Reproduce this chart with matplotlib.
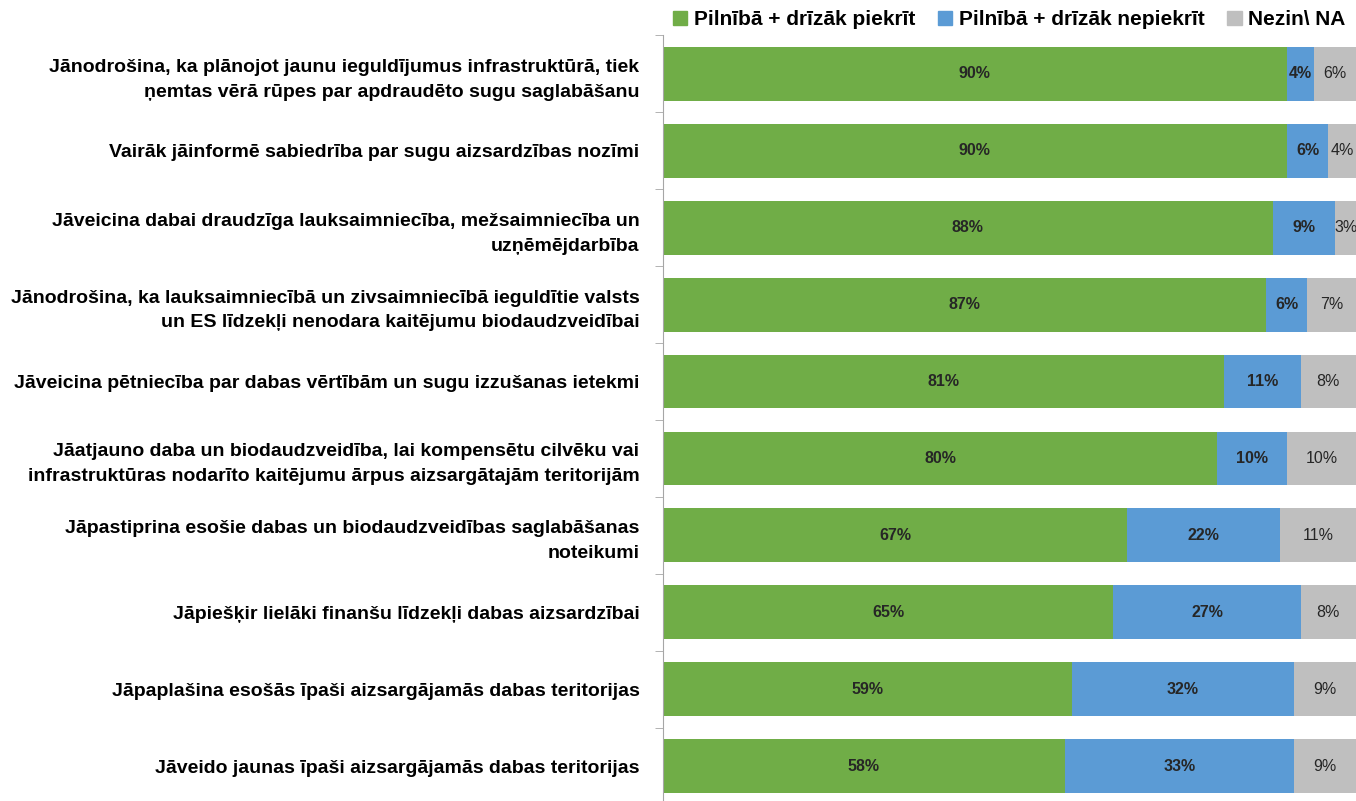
import matplotlib
matplotlib.use("Agg")
import matplotlib.pyplot as plt
import numpy as np
from matplotlib.patches import Patch

plt.rcParams['font.family'] = ['Liberation Sans', 'DejaVu Sans']

categories = [
    "Jānodrošina, ka plānojot jaunu ieguldījumus infrastruktūrā, tiek\nņemtas vērā rūpes par apdraudēto sugu saglabāšanu",
    "Vairāk jāinformē sabiedrība par sugu aizsardzības nozīmi",
    "Jāveicina dabai draudzīga lauksaimniecība, mežsaimniecība un\nuzņēmējdarbība",
    "Jānodrošina, ka lauksaimniecībā un zivsaimniecībā ieguldītie valsts\nun ES līdzekļi nenodara kaitējumu biodaudzveidībai",
    "Jāveicina pētniecība par dabas vērtībām un sugu izzušanas ietekmi",
    "Jāatjauno daba un biodaudzveidība, lai kompensētu cilvēku vai\ninfrastruktūras nodarīto kaitējumu ārpus aizsargātajām teritorijām",
    "Jāpastiprina esošie dabas un biodaudzveidības saglabāšanas\nnoteikumi",
    "Jāpiešķir lielāki finanšu līdzekļi dabas aizsardzībai",
    "Jāpaplašina esošās īpaši aizsargājamās dabas teritorijas",
    "Jāveido jaunas īpaši aizsargājamās dabas teritorijas",
]
agree = [90, 90, 88, 87, 81, 80, 67, 65, 59, 58]
disagree = [4, 6, 9, 6, 11, 10, 22, 27, 32, 33]
dontknow = [6, 4, 3, 7, 8, 10, 11, 8, 9, 9]

series = [
    ("Pilnībā + drīzāk piekrīt", agree, "#70AD47", "bold"),
    ("Pilnībā + drīzāk nepiekrīt", disagree, "#5B9BD5", "bold"),
    ("Nezin\\ NA", dontknow, "#BFBFBF", "normal"),
]

fig = plt.figure(figsize=(13.56, 8.01), dpi=100)
ax = fig.add_axes([663 / 1356, -3.5 / 801, 1 - 663 / 1356, 769 / 801])

y = np.arange(len(categories))
left = np.zeros(len(categories))
for name, vals, color, weight in series:
    vals = np.array(vals, dtype=float)
    ax.barh(y, vals, left=left, height=0.7, color=color, label=name)
    for yi, l, v in zip(y, left, vals):
        ax.text(l + v / 2, yi, f"{v:.0f}%", ha="center", va="center",
                fontsize=11.5, fontweight=weight, color="#262626")
    left += vals

ax.set_xlim(0, 100)
ax.set_ylim(len(categories) - 0.5, -0.5)
ax.set_yticks(y)
ax.set_yticklabels(categories, fontsize=14, fontweight="bold", linespacing=1.6)
ax.tick_params(axis="y", which="major", length=0, pad=17)
ax.set_yticks(np.arange(-0.5, len(categories)), minor=True)
ax.tick_params(axis="y", which="minor", length=6, color="#A6A6A6")
ax.set_xticks([])
for s in ["top", "right", "bottom"]:
    ax.spines[s].set_visible(False)
ax.spines["left"].set_color("#A6A6A6")

handles = [Patch(color=c, label=n) for n, _, c, _ in series]
fig.legend(handles=handles, loc="upper right", bbox_to_anchor=(1.0, 1.0), ncol=3,
           frameon=False, prop={"size": 15, "weight": "bold"},
           handlelength=0.7, handleheight=0.7, handletextpad=0.3, columnspacing=1.1,
           borderaxespad=0.1)

fig.savefig("out.png", dpi=100)
